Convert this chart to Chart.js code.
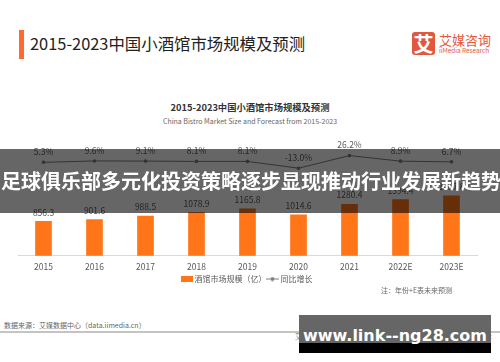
<!DOCTYPE html>
<html>
<head>
<meta charset="utf-8">
<script src="https://cdn.jsdelivr.net/npm/chart.js@4/dist/chart.umd.min.js"></script>
<style>
  html, body { margin: 0; padding: 0; background: #fff; }
  #page { position: relative; width: 500px; height: 362px; overflow: hidden; font-family: "Noto Sans CJK SC", sans-serif; }
  #page div { position: absolute; white-space: nowrap; }
  #chartBox { left: 0; top: 0; width: 500px; height: 295px; }
  .accent { left: 19px; top: 30px; width: 5px; height: 29px; background: #ff6a33; }
  .title { left: 30px; top: 31px; font-size: 16.4px; line-height: 24px; font-weight: 400; color: #222; }
  .logoBox { left: 412px; top: 32px; width: 23px; height: 23px; border-radius: 3px; background: #e2583e; color: #fff; font-size: 20px; line-height: 23px; text-align: center; font-weight: 700; }
  .logoCn { left: 439px; top: 31px; font-size: 13px; line-height: 18px; font-weight: 400; color: #e2583e; }
  .logoEn { left: 439px; top: 46px; font-size: 6.4px; line-height: 10px; color: #e2583e; }
  .sub { left: 0; width: 500px; text-align: center; }
  .subCn { top: 100px; font-size: 9.3px; line-height: 14px; font-weight: 700; color: #333; }
  .subEn { top: 116px; font-size: 7px; line-height: 10px; color: #666; }
  .note { left: 381px; top: 285px; font-size: 7px; line-height: 10px; color: #666; }
  .source { left: 4px; top: 320px; font-size: 7px; line-height: 10px; color: #666; }
  .rule { left: 0; top: 331px; width: 500px; height: 2px; background: #c4c4c4; }
  .foot { top: 332px; font-size: 6.4px; line-height: 10px; color: #777; }
  .banner { left: 0; top: 149px; width: 500px; height: 64px; background: rgba(0,0,0,.6); color: #fff; font-size: 20px; line-height: 64px; font-weight: 700; padding-left: 1px; }
  .mark { left: 299px; top: 315px; width: 192px; height: 38px; background: linear-gradient(#666 0 28px, #000 28px); color: #fff; font-size: 16px; line-height: 42px; font-weight: 700; text-align: center; font-family: "DejaVu Sans", sans-serif; }
</style>
</head>
<body>
<div id="page">
  <div class="accent"></div>
  <div class="title">2015-2023中国小酒馆市场规模及预测</div>
  <div class="logoBox">艾</div>
  <div class="logoCn">艾媒咨询</div>
  <div class="logoEn">iiMedia Research</div>
  <div class="sub subCn">2015-2023中国小酒馆市场规模及预测</div>
  <div class="sub subEn">China Bistro Market Size and Forecast from 2015-2023</div>
  <div id="chartBox"><canvas id="bistroChart"></canvas></div>
  <div class="note">注：年份+E表未来预测</div>
  <div class="source">数据来源：艾媒数据中心（data.iimedia.cn）</div>
  <div class="rule"></div>
  <div class="foot" style="left:295px">艾媒</div>
  <div class="foot" style="left:483px">Inc</div>
  <div class="banner">足球俱乐部多元化投资策略逐步显现推动行业发展新趋势</div>
  <div class="mark">www.link--ng28.com</div>
</div>
<script>
const years = ['2015', '2016', '2017', '2018', '2019', '2020', '2021', '2022E', '2023E'];
const marketSize = [856.3, 901.6, 988.5, 1078.9, 1165.8, 1014.6, 1280.4, 1394.4, 1487.8];
const growth = [5.3, 9.6, 9.1, 8.1, 8.1, -13.0, 26.2, 8.9, 6.7];
const sizeName = '酒馆市场规模（亿）';
const growthName = '同比增长';

const barColor = '#ff7518';
const lineColor = '#7f7f7f';
const textColor = '#595959';
const cnFont = '"Noto Sans CJK SC", sans-serif';

// little legend swatches
function barIcon() {
  const c = document.createElement('canvas');
  c.width = 12; c.height = 6;
  const g = c.getContext('2d');
  g.fillStyle = barColor;
  g.fillRect(0, 0, 12, 6);
  return c;
}
function lineIcon() {
  const c = document.createElement('canvas');
  c.width = 13; c.height = 5;
  const g = c.getContext('2d');
  g.fillStyle = lineColor;
  g.fillRect(0, 2, 13, 1);
  g.beginPath();
  g.arc(6.5, 2.5, 2, 0, Math.PI * 2);
  g.fill();
  return c;
}

// value labels above the bars and the line points
const valueLabels = {
  id: 'valueLabels',
  afterDatasetsDraw(chart) {
    const ctx = chart.ctx;
    ctx.save();
    ctx.font = '8.5px ' + cnFont;
    ctx.fillStyle = textColor;
    ctx.textAlign = 'center';
    ctx.textBaseline = 'middle';
    chart.getDatasetMeta(0).data.forEach((bar, i) => {
      ctx.fillText(marketSize[i].toFixed(1), bar.x, bar.y - 9);
    });
    chart.getDatasetMeta(1).data.forEach((pt, i) => {
      ctx.fillText(growth[i].toFixed(1) + '%', pt.x, pt.y - 10.5);
    });
    ctx.restore();
  }
};

new Chart(document.getElementById('bistroChart'), {
  data: {
    labels: years,
    datasets: [
      {
        type: 'bar',
        label: sizeName,
        data: marketSize,
        yAxisID: 'yBar',
        backgroundColor: barColor,
        barThickness: 16,
        order: 2
      },
      {
        type: 'line',
        label: growthName,
        data: growth,
        yAxisID: 'yLine',
        borderColor: lineColor,
        backgroundColor: lineColor,
        borderWidth: 1,
        pointRadius: 1.8,
        pointBackgroundColor: lineColor,
        pointBorderWidth: 0,
        tension: 0,
        order: 1
      }
    ]
  },
  options: {
    responsive: true,
    maintainAspectRatio: false,
    animation: false,
    layout: { padding: { left: 18, right: 23, top: 130, bottom: 2 } },
    scales: {
      x: {
        grid: { display: false, drawTicks: false },
        border: { color: '#d9d9d9', width: 1 },
        ticks: { color: textColor, font: { size: 8.5, family: cnFont }, padding: 6, maxRotation: 0 },
        // tighten the gap between the tick labels and the legend
        afterFit(scale) { scale.height -= 5; }
      },
      yBar: { display: false, min: 0, max: 3123 },
      yLine: { display: false, min: -286, max: 106 }
    },
    plugins: {
      tooltip: { enabled: false },
      legend: {
        position: 'bottom',
        labels: {
          color: textColor,
          font: { size: 8, family: cnFont },
          usePointStyle: true,
          boxHeight: 6,
          padding: 2,
          generateLabels() {
            return [
              { text: sizeName, pointStyle: barIcon(), fontColor: textColor, lineWidth: 0, datasetIndex: 0 },
              { text: growthName, pointStyle: lineIcon(), fontColor: textColor, lineWidth: 0, datasetIndex: 1 }
            ];
          }
        }
      }
    }
  },
  plugins: [valueLabels]
});
</script>
</body>
</html>
